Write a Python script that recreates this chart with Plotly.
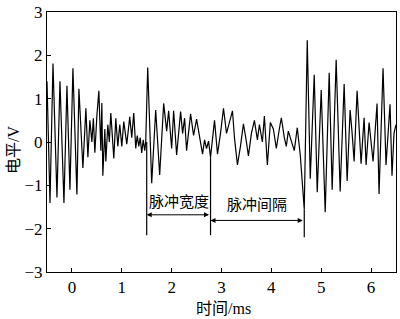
import plotly.graph_objects as go

# Waveform (time in ms, level in V)
time_ms = [
    -0.50, -0.44, -0.38, -0.30, -0.24, -0.16, -0.10, -0.04, 0.02, 0.10, 0.14, 0.22, 0.28,
    0.32, 0.36, 0.40, 0.43, 0.46, 0.50, 0.54, 0.58, 0.60, 0.62, 0.66, 0.68, 0.72, 0.75,
    0.78, 0.84, 0.88, 0.92, 0.96, 1.00, 1.04, 1.10, 1.16, 1.20, 1.24, 1.28, 1.31, 1.34,
    1.37, 1.40, 1.43, 1.46, 1.48, 1.52, 1.60, 1.68, 1.76, 1.84, 1.90, 1.94, 2.00, 2.04,
    2.10, 2.18, 2.22, 2.26, 2.30, 2.38, 2.44, 2.50, 2.56, 2.62, 2.66, 2.70, 2.74, 2.78,
    2.86, 2.92, 2.98, 3.04, 3.10, 3.22, 3.26, 3.32, 3.38, 3.44, 3.50, 3.54, 3.60, 3.66,
    3.72, 3.76, 3.82, 3.86, 3.92, 3.98, 4.04, 4.10, 4.16, 4.20, 4.26, 4.30, 4.34, 4.40,
    4.46, 4.52, 4.58, 4.66, 4.72, 4.78, 4.86, 4.92, 5.00, 5.08, 5.16, 5.22, 5.30, 5.38,
    5.46, 5.52, 5.58, 5.62, 5.66, 5.72, 5.80, 5.86, 5.90, 5.96, 6.00, 6.04, 6.12, 6.16,
    6.24, 6.30, 6.38, 6.42, 6.46, 6.50,
]
level_v = [
    1.40, -1.41, 1.81, -1.28, 1.40, -1.41, 1.30, -1.10, 1.70, -1.21, 1.23, -0.60, 0.78,
    -0.35, 0.50, 0.00, 0.55, -0.25, 0.60, 1.18, -0.20, 0.90, -0.78, 0.30, -0.45, 0.40, 0.00,
    0.67, -0.38, 0.55, -0.10, 0.40, -0.10, 0.47, -0.05, 0.58, 0.10, 0.67, -0.15, 0.15, -0.10,
    0.10, -0.25, 0.05, -0.20, 0.00, 1.72, -0.95, 0.74, -0.76, 0.89, 0.25, 0.72, -0.15, 0.72,
    -0.30, 0.70, 0.20, 0.55, -0.20, 0.65, 0.15, 0.53, 0.10, -0.28, 0.05, -0.15, 0.02, -0.35,
    0.50, -0.28, 0.20, 0.78, 0.20, 0.72, 0.10, -0.53, -0.10, 0.42, 0.00, -0.32, 0.20, 0.50,
    0.05, 0.40, 0.00, 0.60, -0.53, 0.45, 0.30, -0.15, 0.30, 0.56, 0.10, -0.10, 0.25, 0.05,
    -0.20, 0.33, -0.30, -1.55, 2.35, -0.85, 1.55, -1.16, 1.20, -1.62, 1.60, -1.10, 1.90, -1.14,
    1.34, -0.90, 0.74, 0.20, -0.45, 1.18, -0.50, 0.56, -0.53, 0.45, 0.00, -0.45, 0.89, -1.20,
    1.70, -0.53, 0.87, -0.78, 0.20, 0.40,
]

# Pulse markers
marker_t = [1.50, 2.78, 4.66]
marker_bottom = [-2.15, -2.15, -2.20]
marker_top = [0.00, -0.35, -1.55]
width_label = "脉冲宽度"
gap_label = "脉冲间隔"
width_arrow_y = -1.68
gap_arrow_y = -1.81

x_ticks = [0, 1, 2, 3, 4, 5, 6]
y_ticks = [-3, -2, -1, 0, 1, 2, 3]

FONT = "Liberation Serif, Noto Sans CJK SC, serif"

fig = go.Figure()
fig.add_trace(go.Scatter(x=time_ms, y=level_v, mode="lines",
                         line=dict(color="black", width=1.2), showlegend=False,
                         hoverinfo="skip"))

for t, b, tp in zip(marker_t, marker_bottom, marker_top):
    fig.add_shape(type="line", xref="x", yref="y", x0=t, x1=t, y0=b, y1=tp,
                  line=dict(color="black", width=1.2))

arrow_common = dict(xref="x", yref="y", axref="x", ayref="y", text="", showarrow=True,
                    arrowhead=2, startarrowhead=2, arrowside="end+start",
                    arrowsize=1, arrowwidth=1, arrowcolor="black",
                    standoff=0, startstandoff=0)
fig.add_annotation(x=marker_t[0], y=width_arrow_y, ax=marker_t[1], ay=width_arrow_y, **arrow_common)
fig.add_annotation(x=marker_t[1], y=gap_arrow_y, ax=marker_t[2], ay=gap_arrow_y, **arrow_common)

fig.add_annotation(x=(marker_t[0] + marker_t[1]) / 2, y=width_arrow_y, yshift=13,
                   text=width_label, showarrow=False, font=dict(size=15, family=FONT, color="black"))
fig.add_annotation(x=(marker_t[1] + marker_t[2]) / 2, y=gap_arrow_y, yshift=15,
                   text=gap_label, showarrow=False, font=dict(size=15, family=FONT, color="black"))

# axis titles
fig.add_annotation(xref="paper", yref="paper", x=0.506, y=-0.142, yanchor="middle",
                   text="时间/ms", showarrow=False, font=dict(size=16, family=FONT, color="black"))
fig.add_annotation(xref="paper", yref="paper", x=-0.094, y=0.47, xanchor="center",
                   text="电平/V", textangle=-90, showarrow=False,
                   font=dict(size=16, family=FONT, color="black"))

axis_common = dict(showline=True, linecolor="black", linewidth=1, mirror=True,
                   ticks="inside", ticklen=4, tickcolor="black", tickwidth=1,
                   showgrid=False, zeroline=False, ticklabeloverflow="allow",
                   tickfont=dict(size=17, family=FONT, color="black"))
fig.update_xaxes(range=[-0.5, 6.5], tickvals=x_ticks, **axis_common)
fig.update_yaxes(range=[-3, 3], tickvals=y_ticks, **axis_common)

fig.update_layout(width=400, height=319, margin=dict(l=47, r=3, t=4, b=47),
                  plot_bgcolor="white", paper_bgcolor="white")

fig.write_html("out.html")
